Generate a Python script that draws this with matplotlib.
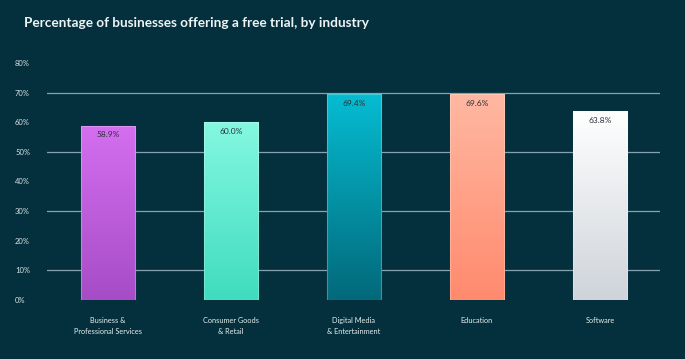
import numpy as np
import matplotlib
matplotlib.use('Agg')
import matplotlib.pyplot as plt
from matplotlib.colors import LinearSegmentedColormap

# dados
categorias = ['Business &\nProfessional Services', 'Consumer Goods\n& Retail',
              'Digital Media\n& Entertainment', 'Education', 'Software']
valores = [58.9, 60.0, 69.4, 69.6, 63.8]
rotulos = ['58.9%', '60.0%', '69.4%', '69.6%', '63.8%']
yticks = [0, 10, 20, 30, 40, 50, 60, 70, 80]
grid_y = [10, 30, 50, 70]

# cores (topo, base) de cada barra
cores_topo = ['#d46ff0', '#84f8e0', '#06bcd2', '#ffb8a2', '#ffffff']
cores_base = ['#a64cc6', '#3fdcbf', '#02697a', '#ff8a6e', '#cfd4da']

fundo = '#03303c'
plt.rcParams['font.family'] = ['Lato', 'DejaVu Sans']

fig = plt.figure(figsize=(6.85, 3.59), dpi=100, facecolor=fundo)
ax = fig.add_axes([47 / 685, (359 - 300) / 359, (660 - 47) / 685, (300 - 63) / 359])
ax.set_facecolor(fundo)

x = np.arange(len(categorias))
ax.set_xlim(-0.496, 4.488)
ax.set_ylim(0, 80)

for gy in grid_y:
    ax.axhline(gy, color='#86a2ae', lw=0.9, zorder=1)

barras = ax.bar(x, valores, width=0.44, color='none', edgecolor='none', zorder=2)

grad = np.linspace(1, 0, 256).reshape(-1, 1)
for i, b in enumerate(barras):
    cmap = LinearSegmentedColormap.from_list('g%d' % i, [cores_base[i], cores_topo[i]])
    x0, w, h = b.get_x(), b.get_width(), b.get_height()
    img = ax.imshow(grad, cmap=cmap, aspect='auto', extent=[x0, x0 + w, 0, h],
                    origin='upper', zorder=3)
    img.set_clip_path(b)
    ax.add_patch(plt.Rectangle((x0, 0), w, h, fill=False, edgecolor='#ffffff',
                               alpha=0.25, lw=0.8, zorder=4))
    ax.text(b.get_x() + w / 2, h - 2.0, rotulos[i], ha='center', va='top',
            fontsize=6, color='#2a2f3a', zorder=5)

ax.set_aspect('auto')
ax.set_xticks(x)
ax.set_xticklabels(categorias, fontsize=5.3, color='#e6eef0', linespacing=1.75)
ax.tick_params(axis='x', length=0, pad=12)
ax.set_yticks(yticks)
ax.set_yticklabels(['%d%%' % v for v in yticks], fontsize=5.5, color='#d8e2e6', ha='left')
ax.tick_params(axis='y', length=0, pad=23)
for s in ax.spines.values():
    s.set_visible(False)

fig.text(24 / 685, 1 - 23 / 359, 'Percentage of businesses offering a free trial, by industry',
         fontsize=9.8, fontweight='bold', color='#eef3f5', ha='left', va='center')

fig.savefig('out.png', dpi=100, facecolor=fundo)
